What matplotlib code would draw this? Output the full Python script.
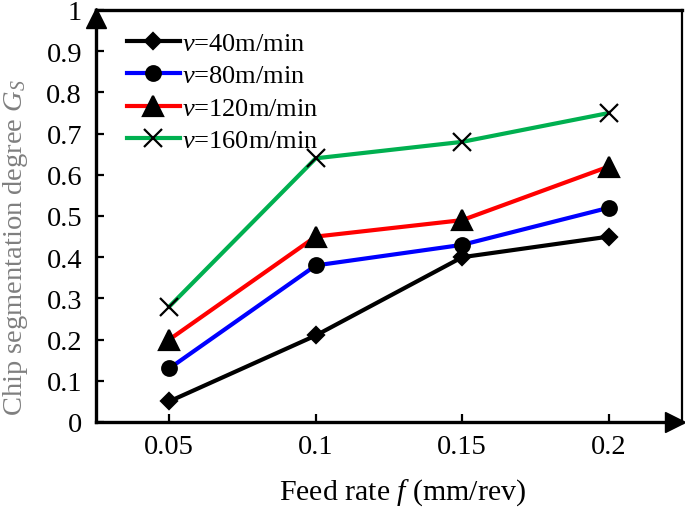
import matplotlib
matplotlib.use("Agg")
import matplotlib.pyplot as plt
import matplotlib.transforms as mtransforms

plt.rcParams['font.family'] = ['Liberation Serif', 'DejaVu Serif']
plt.rcParams['mathtext.fontset'] = 'custom'
plt.rcParams['mathtext.rm'] = 'Liberation Serif'
plt.rcParams['mathtext.it'] = 'Liberation Serif:italic'

# datos
feed_rates = ['0.05', '0.1', '0.15', '0.2']
speeds = ['40', '80', '120', '160']
gs_40 = [0.05, 0.21, 0.40, 0.45]
gs_80 = [0.13, 0.38, 0.43, 0.52]
gs_120 = [0.20, 0.45, 0.49, 0.62]
gs_160 = [0.28, 0.64, 0.68, 0.75]

series = [gs_40, gs_80, gs_120, gs_160]
colores = ['#000000', '#0000FF', '#FF0000', '#00B050']
marcadores = [('D', 8.5), ('o', 10.5), ('^', 14), ('x', 13.5)]

fig = plt.figure(figsize=(6.85, 5.1), dpi=100)
ax = fig.add_axes([96/685, 87/510, 586/685, 412/510])

x = list(range(1, len(feed_rates) + 1))
for vel, y, c, (m, ms) in zip(speeds, series, colores, marcadores):
    ax.plot(x, y, color=c, lw=3, marker=m, ms=ms, mfc='black', mec='black',
            mew=1.6, label=f'$v$=' + vel + 'm/min', zorder=3)

ax.set_xlim(0.5, 4.5)
ax.set_ylim(0, 1)
ax.set_xticks(x)
ax.set_xticklabels(feed_rates)
ax.set_yticks([i / 10 for i in range(11)])
ax.set_yticklabels(['0'] + [f'{i/10:.1f}' for i in range(1, 10)] + ['1'])
ax.tick_params(direction='in', length=6, width=1.6, labelsize=20.5)
ax.tick_params(axis='x', pad=9)
ax.tick_params(axis='y', pad=10)

for lado, ancho in [('left', 2.4), ('bottom', 2.4), ('top', 2.4), ('right', 1.6)]:
    ax.spines[lado].set_linewidth(ancho)

# flechas de los ejes
tr_y = mtransforms.offset_copy(ax.transAxes, fig=fig, y=-8, units='dots')
ax.plot([0], [1], marker='^', ms=15, color='black', transform=tr_y, clip_on=False, zorder=5)
tr_x = mtransforms.offset_copy(ax.transAxes, fig=fig, x=-7, units='dots')
ax.plot([1], [0], marker='>', ms=15, color='black', transform=tr_x, clip_on=False, zorder=5)

ax.legend(loc='upper left', bbox_to_anchor=(0.053, 0.948), frameon=False,
          fontsize=19, handlelength=2.0, handletextpad=0.1, labelspacing=0.34,
          borderpad=0, borderaxespad=0)

fig.text(403/685, 1 - 493/510, 'Feed rate $f$ (mm/rev)', ha='center', va='center', fontsize=21.5)
fig.text(16/685, 1 - 248/510, 'Chip segmentation degree $G_S$', ha='center', va='center',
         rotation=90, fontsize=20.5, color='#7F7F7F')

fig.savefig('out.png', dpi=100)
